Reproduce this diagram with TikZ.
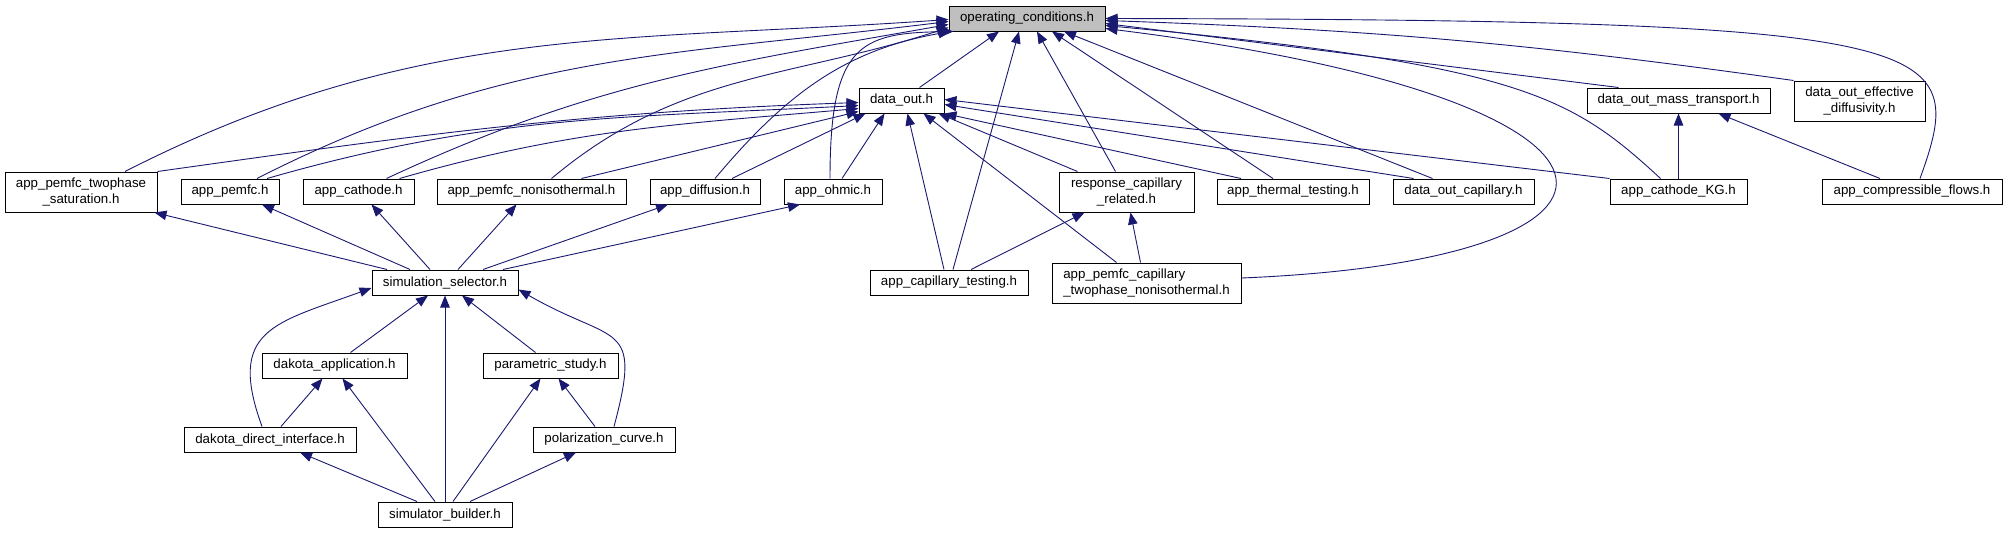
\documentclass[tikz,border=0pt]{standalone}
\usepackage{fontspec}
\setmainfont{Liberation Sans}
\usetikzlibrary{arrows.meta}
\definecolor{edgeblue}{HTML}{191970}
\definecolor{rootgrey}{HTML}{BFBFBF}
\tikzset{
  hfile/.style={draw=black, line width=1pt, fill=white, rectangle, inner sep=0pt,
    minimum height=25pt, font=\fontsize{13.3}{16}\selectfont},
  hfiletwo/.style={hfile, minimum height=40pt, align=center},
  incl/.style={draw=edgeblue, line width=0.9pt, -{Triangle[length=12pt,width=9.5pt]}},
}
\begin{document}
\begin{tikzpicture}[x=1pt, y=-1pt]
\useasboundingbox (0,0) rectangle (2007,533);
% header files
\node[hfile, fill=rootgrey, minimum width=156pt] (op) at (1027,18.5) {operating\_conditions.h};
\node[hfile, minimum width=85pt]  (dout)  at (901.5,100.5)  {data\_out.h};
\node[hfile, minimum width=183pt] (dmass) at (1678.5,100.5) {data\_out\_mass\_transport.h};
\node[hfiletwo, minimum width=131pt] (deff) at (1859.5,101) {data\_out\_effective\\\_diffusivity.h};
\node[hfiletwo, minimum width=152pt] (tps) at (81,192) {app\_pemfc\_twophase\\\_saturation.h};
\node[hfile, minimum width=98pt]  (pemfc) at (230,191.5)   {app\_pemfc.h};
\node[hfile, minimum width=111pt] (cath)  at (358.5,191.5) {app\_cathode.h};
\node[hfile, minimum width=189pt] (pnon)  at (531.5,191.5) {app\_pemfc\_nonisothermal.h};
\node[hfile, minimum width=110pt] (diff)  at (705,191.5)   {app\_diffusion.h};
\node[hfile, minimum width=98pt]  (ohmic) at (833,191.5)   {app\_ohmic.h};
\node[hfiletwo, minimum width=135pt] (resp) at (1126.5,192) {response\_capillary\\\_related.h};
\node[hfile, minimum width=152pt] (therm) at (1293,191.5)   {app\_thermal\_testing.h};
\node[hfile, minimum width=141pt] (dcap)  at (1463.5,191.5) {data\_out\_capillary.h};
\node[hfile, minimum width=137pt] (kg)    at (1678.5,191.5) {app\_cathode\_KG.h};
\node[hfile, minimum width=180pt] (comp)  at (1912,191.5)   {app\_compressible\_flows.h};
\node[hfile, minimum width=146pt] (ssel)  at (445,282.5)   {simulation\_selector.h};
\node[hfile, minimum width=158pt] (ctest) at (949,282.5)   {app\_capillary\_testing.h};
\node[hfiletwo, align=left, minimum width=189pt] (p2ph) at (1146.5,283) {app\_pemfc\_capillary\\\_twophase\_nonisothermal.h};
\node[hfile, minimum width=145pt] (dapp)   at (334.5,365.5) {dakota\_application.h};
\node[hfile, minimum width=135pt] (pstudy) at (550.5,365.5) {parametric\_study.h};
\node[hfile, minimum width=172pt] (ddir)   at (270,439.5)   {dakota\_direct\_interface.h};
\node[hfile, minimum width=142pt] (pcurve) at (604,439.5)   {polarization\_curve.h};
\node[hfile, minimum width=134pt] (sbuild) at (445,514.5)   {simulator\_builder.h};
% into operating_conditions.h
\draw[incl] ([xshift=44pt]tps.north) to[out=27,in=184] ([yshift=-1pt]op.west);
\draw[incl] ([xshift=27pt]pemfc.north) to[out=27,in=187] ([yshift=-3pt]op.west);
\draw[incl] ([xshift=28pt]cath.north) to[out=25,in=190] ([yshift=-6pt]op.west);
\draw[incl] ([xshift=20pt]pnon.north) to[out=40,in=198] ([yshift=-9pt]op.west);
\draw[incl] ([xshift=10pt]diff.north) to[out=50,in=190] ([xshift=2pt]op.south west);
\draw[incl] ([xshift=-3pt]ohmic.north) .. controls (830,45) and (860,33) .. ([xshift=5pt]op.south west);
\draw[incl] ([xshift=18pt]dout.north) -- ([xshift=-28pt]op.south);
\draw[incl] ([xshift=4pt]ctest.north) -- ([xshift=-8pt]op.south);
\draw[incl] ([xshift=-11pt]resp.north) -- ([xshift=10pt]op.south);
\draw[incl] ([xshift=-20pt]therm.north) -- ([xshift=25pt]op.south);
\draw[incl] ([xshift=-31pt]dcap.north) -- ([xshift=37pt]op.south);
\draw[incl] ([yshift=5pt]p2ph.east) .. controls (1680,260) and (1680,100) .. ([yshift=-10pt]op.east);
\draw[incl] ([xshift=-18pt]kg.north) .. controls (1570,95) and (1520,65) .. ([yshift=-7pt]op.east);
\draw[incl] ([xshift=-60pt]dmass.north) -- ([yshift=-5pt]op.east);
\draw[incl] (deff.north west) to[bend right=3] ([yshift=-2pt]op.east);
\draw[incl] ([xshift=8pt]comp.north) .. controls (1970,40) and (1950,20) .. (op.east);
% into data_out.h
\draw[incl] (tps.north east) to[out=8,in=182] ([yshift=-2pt]dout.west);
\draw[incl] ([xshift=37pt]pemfc.north) to[out=16,in=183] ([yshift=-5pt]dout.west);
\draw[incl] ([xshift=41pt]cath.north) to[out=16,in=185] ([yshift=-8pt]dout.west);
\draw[incl] ([xshift=50pt]pnon.north) -- ([yshift=-11pt]dout.west);
\draw[incl] ([xshift=27pt]diff.north) -- ([xshift=-36pt]dout.south);
\draw[incl] ([xshift=9pt]ohmic.north) -- ([xshift=-17pt]dout.south);
\draw[incl] ([xshift=-5pt]ctest.north) -- ([xshift=6pt]dout.south);
\draw[incl] ([xshift=-30pt]p2ph.north) -- ([xshift=22pt]dout.south);
\draw[incl] ([xshift=-49pt]resp.north) -- ([xshift=-6pt]dout.south east);
\draw[incl] ([xshift=-52pt]therm.north) -- (dout.south east);
\draw[incl] ([xshift=-50pt]dcap.north) -- ([yshift=-4pt]dout.east);
\draw[incl] (kg.north west) -- ([yshift=1pt]dout.east);
% into response_capillary_related.h and data_out_mass_transport.h
\draw[incl] ([xshift=22pt]ctest.north) -- ([xshift=-42pt]resp.south);
\draw[incl] ([xshift=-6pt]p2ph.north) -- ([xshift=4pt]resp.south);
\draw[incl] (kg.north) -- (dmass.south);
\draw[incl] ([xshift=-32pt]comp.north) -- ([xshift=40pt]dmass.south);
% simulation_selector.h
\draw[incl] ([xshift=-58pt]ssel.north) -- ([xshift=-3pt]tps.south east);
\draw[incl] ([xshift=-35pt]ssel.north) -- ([xshift=32pt]pemfc.south);
\draw[incl] ([xshift=-15pt]ssel.north) -- ([xshift=13pt]cath.south);
\draw[incl] ([xshift=13pt]ssel.north) -- ([xshift=-15pt]pnon.south);
\draw[incl] ([xshift=38pt]ssel.north) -- ([xshift=-37pt]diff.south);
\draw[incl] ([xshift=58pt]ssel.north) -- ([xshift=-33pt]ohmic.south);
\draw[incl] ([xshift=-8pt]ddir.north) to[out=110,in=200,looseness=1.5] ([yshift=-5.5pt]ssel.west);
\draw[incl] ([xshift=16pt]dapp.north) -- ([xshift=-17pt]ssel.south);
\draw[incl] (sbuild.north) -- (ssel.south);
\draw[incl] ([xshift=-15pt]pstudy.north) -- ([xshift=17pt]ssel.south);
\draw[incl] ([xshift=10pt]pcurve.north) to[out=75,in=-30,looseness=1.7] ([yshift=-7pt]ssel.east);
% lower rows
\draw[incl] ([xshift=11pt]ddir.north) -- ([xshift=-12pt]dapp.south);
\draw[incl] ([xshift=-10pt]sbuild.north) -- ([xshift=8pt]dapp.south);
\draw[incl] ([xshift=8pt]sbuild.north) -- ([xshift=-10pt]pstudy.south);
\draw[incl] ([xshift=-9pt]pcurve.north) -- ([xshift=8pt]pstudy.south);
\draw[incl] ([xshift=-28pt]sbuild.north) -- ([xshift=30pt]ddir.south);
\draw[incl] ([xshift=25pt]sbuild.north) -- ([xshift=-28pt]pcurve.south);
\end{tikzpicture}
\end{document}
